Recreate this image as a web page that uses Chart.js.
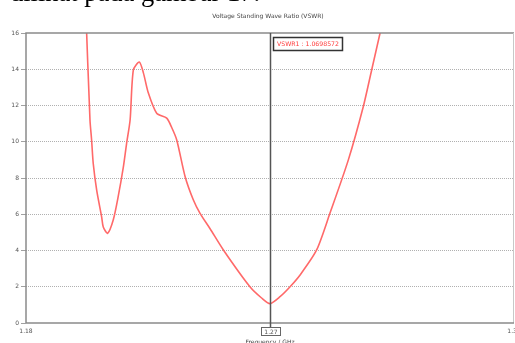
<!DOCTYPE html>
<html>
<head>
<meta charset="utf-8">
<script src="https://cdn.jsdelivr.net/npm/chart.js@4"></script>
<style>
  html, body { margin: 0; padding: 0; background: #fff; overflow: hidden; }
  #wrap { position: relative; width: 515px; height: 343px; }
  #doc {
    position: absolute; left: 10px; top: -21px; white-space: nowrap;
    font: 26.5px/26px "Liberation Serif", serif; color: #000;
  }
  canvas { position: absolute; left: 0; top: 0; }
</style>
</head>
<body>
<div id="wrap">
  <canvas id="c" width="515" height="343"></canvas>
  <div id="doc">dilihat pada gambar 17.</div>
</div>
<script>
const freqGHz = [1.2020, 1.2036, 1.2042, 1.2048, 1.2061, 1.2079, 1.2085, 1.2101,
  1.2122, 1.2140, 1.2159, 1.2171, 1.2184, 1.2196, 1.2218, 1.2233, 1.2251, 1.2282,
  1.2319, 1.2337, 1.2356, 1.2387, 1.2417, 1.2442, 1.2479, 1.2528, 1.2626, 1.2669,
  1.2700, 1.2737, 1.2774, 1.2811, 1.2872, 1.2921, 1.2989, 1.3044, 1.3075,
  1.3106, 1.3121];
const vswr = [17.5, 11.2, 10.1, 8.8, 7.3, 5.86, 5.3, 4.95,
  5.7, 6.97, 8.6, 9.9, 11.2, 13.96, 14.4, 13.8, 12.7, 11.57,
  11.3, 10.8, 10.1, 8.07, 6.8, 6.05, 5.2, 4.03, 2.0, 1.38,
  1.07, 1.45, 2.0, 2.65, 4.03, 6.05, 9.0, 11.93, 13.96,
  16.0, 17.0];

const yTicks = [0, 2, 4, 6, 8, 10, 12, 14, 16];
const xTicks = [1.18, 1.36];
const markerFreq = 1.27;
const markerLabel = 'VSWR1 : 1.0698572';
const chartTitle = 'Voltage Standing Wave Ratio (VSWR)';
const xTitle = 'Frequency / GHz';

const smallFont = '"DejaVu Sans", sans-serif';

const extras = {
  id: 'extras',
  afterDraw(chart) {
    const { ctx, chartArea: a, scales: { x } } = chart;
    ctx.save();
    // frame
    ctx.strokeStyle = '#8a8a8a';
    ctx.lineWidth = 1.5;
    ctx.beginPath();
    ctx.moveTo(a.left, a.bottom);
    ctx.lineTo(a.left, a.top);
    ctx.lineTo(a.right, a.top);
    ctx.stroke();
    ctx.strokeStyle = '#c8c8c8';
    ctx.lineWidth = 1;
    ctx.beginPath();
    ctx.moveTo(a.right - 0.5, a.top);
    ctx.lineTo(a.right - 0.5, a.bottom);
    ctx.stroke();
    ctx.strokeStyle = '#8a8a8a';
    ctx.lineWidth = 1.5;
    ctx.beginPath();
    ctx.moveTo(a.left, a.bottom);
    ctx.lineTo(a.right, a.bottom);
    ctx.stroke();

    // titles
    ctx.fillStyle = '#444';
    ctx.font = '6px ' + smallFont;
    ctx.textAlign = 'center';
    ctx.textBaseline = 'middle';
    ctx.fillText(chartTitle, 268, 16);
    ctx.fillText(xTitle, 270, 342);

    // marker line
    const mx = Math.round(x.getPixelForValue(markerFreq)) + 0.5;
    ctx.strokeStyle = '#555';
    ctx.lineWidth = 1.5;
    ctx.beginPath();
    ctx.moveTo(mx, a.top);
    ctx.lineTo(mx, 328);
    ctx.stroke();

    // marker x box
    ctx.fillStyle = '#fff';
    ctx.fillRect(mx - 9, 327.5, 19, 8);
    ctx.strokeStyle = '#666';
    ctx.lineWidth = 1;
    ctx.strokeRect(mx - 9, 327.5, 19, 8);
    ctx.fillStyle = '#555';
    ctx.font = '6px ' + smallFont;
    ctx.fillText(markerFreq.toFixed(2), mx + 0.5, 332);

    // marker value box
    ctx.font = '6.2px ' + smallFont;
    const w = ctx.measureText(markerLabel).width + 7;
    ctx.fillStyle = '#fff';
    ctx.fillRect(mx + 3, 37.5, w, 13);
    ctx.strokeStyle = '#333';
    ctx.lineWidth = 1.5;
    ctx.strokeRect(mx + 3, 37.5, w, 13);
    ctx.fillStyle = '#ff3b3b';
    ctx.textAlign = 'left';
    ctx.fillText(markerLabel, mx + 6.5, 44.5);
    ctx.restore();
  }
};

new Chart(document.getElementById('c'), {
  type: 'line',
  data: {
    datasets: [{
      data: freqGHz.map((f, i) => ({ x: f, y: vswr[i] })),
      borderColor: 'rgb(255, 105, 105)',
      borderWidth: 1.6,
      pointRadius: 0,
      tension: 0.25,
      fill: false
    }]
  },
  options: {
    responsive: false,
    animation: false,
    events: [],
    layout: { padding: { top: 33, right: 1, left: 0, bottom: 0 } },
    plugins: { legend: { display: false }, tooltip: { enabled: false } },
    scales: {
      x: {
        type: 'linear',
        min: 1.18,
        max: 1.36,
        afterBuildTicks: (s) => { s.ticks = xTicks.map((v) => ({ value: v })); },
        afterFit: (s) => { s.height = 20; s.paddingLeft = 0; s.paddingRight = 0; },
        grid: { display: false, drawTicks: false },
        border: { display: false },
        ticks: {
          padding: 5,
          maxRotation: 0,
          color: '#555',
          font: { family: smallFont, size: 6 },
          callback: (v) => v.toFixed(2)
        }
      },
      y: {
        min: 0,
        max: 16,
        afterBuildTicks: (s) => { s.ticks = yTicks.map((v) => ({ value: v })); },
        afterFit: (s) => { s.width = 26; s.paddingTop = 0; s.paddingBottom = 0; },
        border: { display: false, dash: [1, 1] },
        grid: {
          color: (c) => (c.index === 0 || c.index === yTicks.length - 1) ? 'rgba(0,0,0,0)' : '#b0b0b0',
          tickColor: '#a0a0a0',
          tickLength: 5,
          tickBorderDash: [],
          lineWidth: 1
        },
        ticks: {
          padding: 2,
          color: '#555',
          font: { family: smallFont, size: 6 }
        }
      }
    }
  },
  plugins: [extras]
});
</script>
</body>
</html>
